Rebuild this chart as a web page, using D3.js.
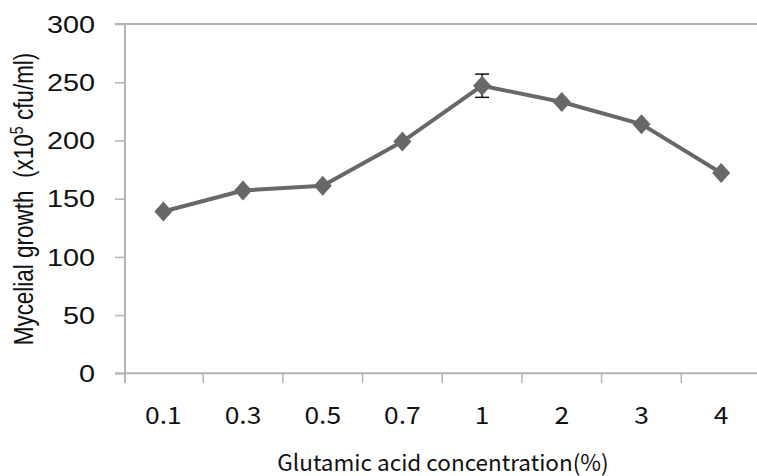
<!DOCTYPE html>
<html>
<head>
<meta charset="utf-8">
<script src="https://cdn.jsdelivr.net/npm/d3@7/dist/d3.min.js"></script>
<style>
  html, body { margin: 0; padding: 0; background: #fff; }
  svg { display: block; }
  text { white-space: pre; }
</style>
</head>
<body>
<svg id="chart" width="757" height="476"></svg>
<script>
// Glutamic acid concentration (%) vs. mycelial growth (x10^5 cfu/ml)
const concentrations = ["0.1", "0.3", "0.5", "0.7", "1", "2", "3", "4"];
const growth = [139, 157, 161, 199, 247, 233, 214, 172];
const growthError = [0, 0, 0, 0, 10, 0, 0, 0];
const yTicks = [0, 50, 100, 150, 200, 250, 300];

const svg = d3.select("#chart");
const W = 757;
const plotLeft = 125, plotTop = 24, plotBottom = 373.3, plotRight = 761;

const x = d3.scaleBand().domain(concentrations).range([123.5, plotRight]).padding(0);
const y = d3.scaleLinear().domain([0, 300]).range([plotBottom, plotTop]);

const axisColor = "#b4b4b4";
const latin = "Arial, 'Liberation Sans', sans-serif";
const korean = "'Noto Sans CJK KR', 'Noto Sans', sans-serif";

// top gridline at the maximum value
svg.append("line")
  .attr("x1", plotLeft - 10).attr("x2", W)
  .attr("y1", y(300)).attr("y2", y(300))
  .attr("stroke", axisColor).attr("stroke-width", 2);

// y axis ticks
const yAxis = svg.append("g").attr("transform", `translate(${plotLeft},0)`)
  .call(d3.axisLeft(y).tickValues(yTicks).tickSize(10).tickFormat(d3.format("d")));
yAxis.select(".domain").remove();
yAxis.selectAll(".tick line").attr("stroke", axisColor).attr("stroke-width", 1.5);
yAxis.selectAll(".tick text").remove();
svg.append("line")
  .attr("x1", plotLeft).attr("x2", plotLeft)
  .attr("y1", plotTop).attr("y2", plotBottom + 10)
  .attr("stroke", axisColor).attr("stroke-width", 2);

// y tick labels (wide lettering)
svg.append("g").selectAll("text").data(yTicks).join("text")
  .attr("transform", d => `translate(95,${y(d)}) scale(1.2,1)`)
  .attr("text-anchor", "end")
  .attr("dy", "0.36em")
  .attr("font-family", latin)
  .attr("font-size", 24)
  .attr("fill", "#111")
  .text(d => d);

// x axis
svg.append("line")
  .attr("x1", plotLeft - 10).attr("x2", W)
  .attr("y1", plotBottom).attr("y2", plotBottom)
  .attr("stroke", axisColor).attr("stroke-width", 2);
svg.append("g").selectAll("line").data(concentrations.slice(1)).join("line")
  .attr("x1", d => x(d)).attr("x2", d => x(d))
  .attr("y1", plotBottom).attr("y2", plotBottom + 10)
  .attr("stroke", axisColor).attr("stroke-width", 1.5);

svg.append("g").selectAll("text").data(concentrations).join("text")
  .attr("transform", d => `translate(${x(d) + x.bandwidth() / 2},424) scale(1.1,1)`)
  .attr("text-anchor", "middle")
  .attr("font-family", korean)
  .attr("font-size", 24)
  .attr("fill", "#111")
  .text(d => d);

// axis titles
svg.append("text")
  .attr("x", 443).attr("y", 471)
  .attr("text-anchor", "middle")
  .attr("font-family", korean)
  .attr("font-size", 22.5)
  .attr("fill", "#111")
  .text("Glutamic acid concentration(%)");

const yTitle = svg.append("text")
  .attr("transform", "translate(33,199) scale(1.25,1) rotate(-90)")
  .attr("text-anchor", "middle")
  .attr("font-family", latin)
  .attr("font-size", 22.5)
  .attr("fill", "#111");
yTitle.append("tspan").text("Mycelial growth  (x10");
yTitle.append("tspan").attr("dy", -8).attr("font-size", 14).text("5");
yTitle.append("tspan").attr("dy", 8).text(" cfu/ml)");

// series line
const cx = d => x(d) + x.bandwidth() / 2;
const pts = concentrations.map((c, i) => ({ c, v: growth[i], e: growthError[i] }));

svg.append("path")
  .datum(pts)
  .attr("fill", "none")
  .attr("stroke", "#686868")
  .attr("stroke-width", 4)
  .attr("stroke-linejoin", "round")
  .attr("d", d3.line().x(d => cx(d.c)).y(d => y(d.v)));

// error bars
const eb = svg.append("g").selectAll("g").data(pts.filter(d => d.e > 0)).join("g");
eb.append("line")
  .attr("x1", d => cx(d.c)).attr("x2", d => cx(d.c))
  .attr("y1", d => y(d.v + d.e)).attr("y2", d => y(d.v - d.e))
  .attr("stroke", "#111").attr("stroke-width", 1.5);
eb.selectAll("line.cap").data(d => [[d, d.v + d.e], [d, d.v - d.e]]).join("line")
  .attr("class", "cap")
  .attr("x1", d => cx(d[0].c) - 7).attr("x2", d => cx(d[0].c) + 7)
  .attr("y1", d => y(d[1])).attr("y2", d => y(d[1]))
  .attr("stroke", "#111").attr("stroke-width", 1.5);

// diamond markers
svg.append("g").selectAll("path").data(pts).join("path")
  .attr("transform", d => `translate(${cx(d.c)},${y(d.v)})`)
  .attr("d", "M0,-10L9,0L0,10L-9,0Z")
  .attr("fill", "#686868");
</script>
</body>
</html>
